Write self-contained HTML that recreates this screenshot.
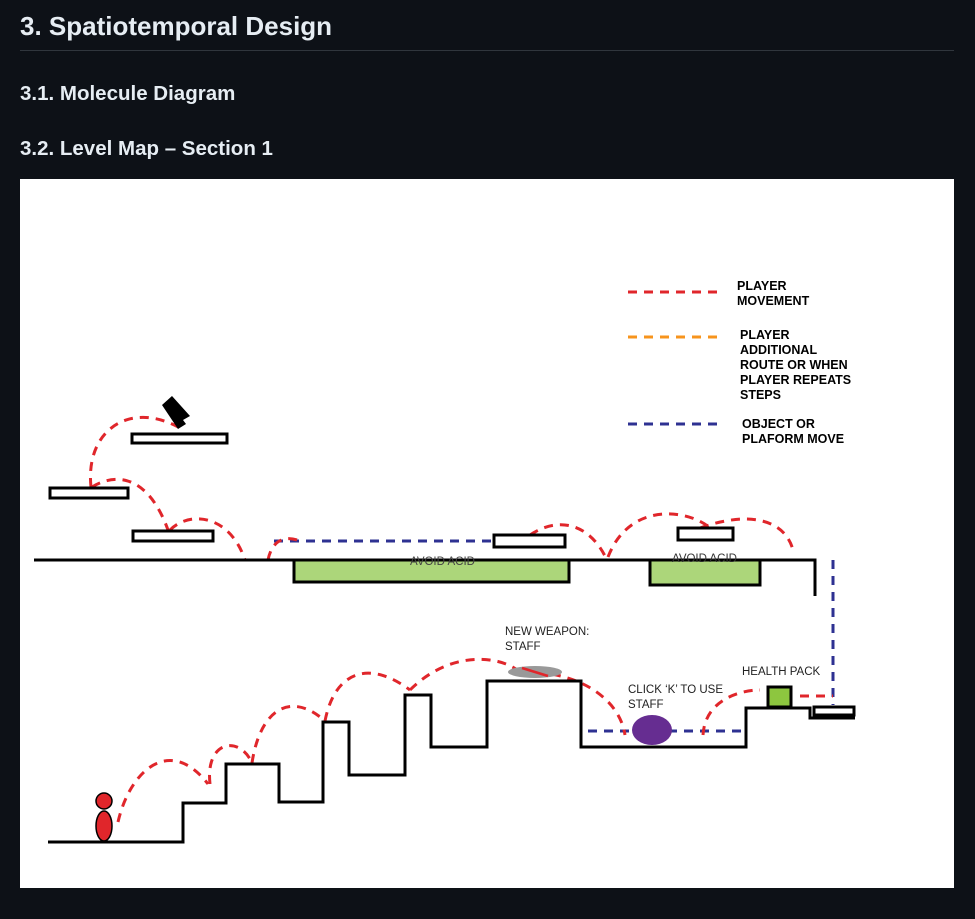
<!DOCTYPE html>
<html><head><style>
body{margin:0;background:#0d1117;width:975px;height:919px;overflow:hidden;font-family:"Liberation Sans",sans-serif;color:#e6edf3}
h1{position:absolute;left:20px;top:11px;margin:0;font-size:26px;font-weight:600}
.hr{position:absolute;left:20px;top:50px;width:934px;height:1px;background:#30363d}
h2{position:absolute;left:20px;margin:0;font-size:20.5px;font-weight:600}
svg{position:absolute;left:20px;top:179px}
</style></head><body>
<h1>3. Spatiotemporal Design</h1><div class="hr"></div>
<h2 style="top:82px">3.1. Molecule Diagram</h2>
<h2 style="top:137px">3.2. Level Map – Section 1</h2>
<svg width="934" height="709" viewBox="20 179 934 709">
<rect x="20" y="179" width="934" height="709" fill="#fff"/>
<g fill="none" stroke-width="3" stroke-dasharray="9,7">
<line x1="628" y1="292" x2="720" y2="292" stroke="#e0262b"/>
<line x1="628" y1="337" x2="720" y2="337" stroke="#f7941d"/>
<line x1="628" y1="424" x2="720" y2="424" stroke="#2e3192"/>
<line x1="274" y1="541" x2="494" y2="541" stroke="#2e3192"/>
<line x1="588" y1="731" x2="744" y2="731" stroke="#2e3192"/>
<line x1="833" y1="560" x2="833" y2="705" stroke="#2e3192"/>
<g stroke="#e0262b">
<path d="M91,487 C85,430 130,400 180,428"/>
<path d="M92,487 C120,470 150,480 168,530"/>
<path d="M170,530 C190,510 230,515 245,560"/>
<path d="M268,560 C272,540 285,535 300,541"/>
<path d="M530,535 C560,515 590,525 606,558"/>
<path d="M608,557 C630,500 690,510 710,528"/>
<path d="M700,528 C750,510 785,520 793,550"/>
<path d="M118,822 C130,770 170,735 208,784"/>
<path d="M210,784 C205,740 240,735 252,763"/>
<path d="M252,763 C260,710 290,690 325,721"/>
<path d="M325,721 C335,670 370,660 410,690"/>
<path d="M410,690 C450,650 500,655 520,672"/>
<path d="M520,672 C580,670 620,700 625,735"/>
<path d="M703,735 C705,700 740,690 760,690"/>
<line x1="800" y1="696" x2="833" y2="696"/>
</g></g>
<g font-size="12.5" font-weight="bold" fill="#000">
<text x="737" y="290">PLAYER</text><text x="737" y="305">MOVEMENT</text>
<text x="740" y="339">PLAYER</text><text x="740" y="354">ADDITIONAL</text><text x="740" y="369">ROUTE OR WHEN</text><text x="740" y="384">PLAYER REPEATS</text><text x="740" y="399">STEPS</text>
<text x="742" y="428">OBJECT OR</text><text x="742" y="443">PLAFORM MOVE</text>
</g>
<g stroke="#000" stroke-width="3" fill="#fff">
<rect x="132" y="434" width="95" height="9"/>
<rect x="50" y="488" width="78" height="10"/>
<rect x="133" y="531" width="80" height="10"/>
<rect x="494" y="535" width="71" height="12"/>
<rect x="678" y="528" width="55" height="12"/>
<rect x="814" y="707" width="40" height="8"/>
<rect x="294" y="560" width="275" height="22" fill="#acd67a"/>
<rect x="650" y="560" width="110" height="25" fill="#acd67a"/>
<rect x="768" y="687" width="23" height="20" fill="#8dc63f"/>
<polyline fill="none" points="34,560 294,560"/>
<polyline fill="none" points="569,560 650,560"/>
<polyline fill="none" points="760,560 815,560 815,596"/>
<polyline fill="none" points="48,842 183,842 183,803 226,803 226,764 279,764 279,802 323,802 323,722 349,722 349,775 405,775 405,695 431,695 431,747 487,747 487,681 581,681 581,747 746,747 746,708 810,708 810,718 855,718"/>
<circle cx="104" cy="801" r="8" fill="#e0262b" stroke-width="1.5"/>
<ellipse cx="104" cy="826" rx="8" ry="15" fill="#e0262b" stroke-width="1.5"/>
</g>
<path d="M162,405 L172,396 L190,416 L183,420 L186,424 L178,429 Z" fill="#000"/>
<ellipse cx="535" cy="672" rx="27" ry="6" fill="#999"/>
<line x1="522" y1="668" x2="548" y2="676" stroke="#e0262b" stroke-width="2.5"/>
<ellipse cx="652" cy="730" rx="20" ry="15" fill="#662d91"/>
<g font-size="11.5" fill="#222">
<text x="410" y="565" fill="#444">AVOID ACID</text>
<text x="672" y="562" fill="#333">AVOID ACID</text>
<text x="505" y="635">NEW WEAPON:</text><text x="505" y="650">STAFF</text>
<text x="628" y="693">CLICK ‘K’ TO USE</text><text x="628" y="708">STAFF</text>
<text x="742" y="675">HEALTH PACK</text>
</g>
</svg>
</body></html>
